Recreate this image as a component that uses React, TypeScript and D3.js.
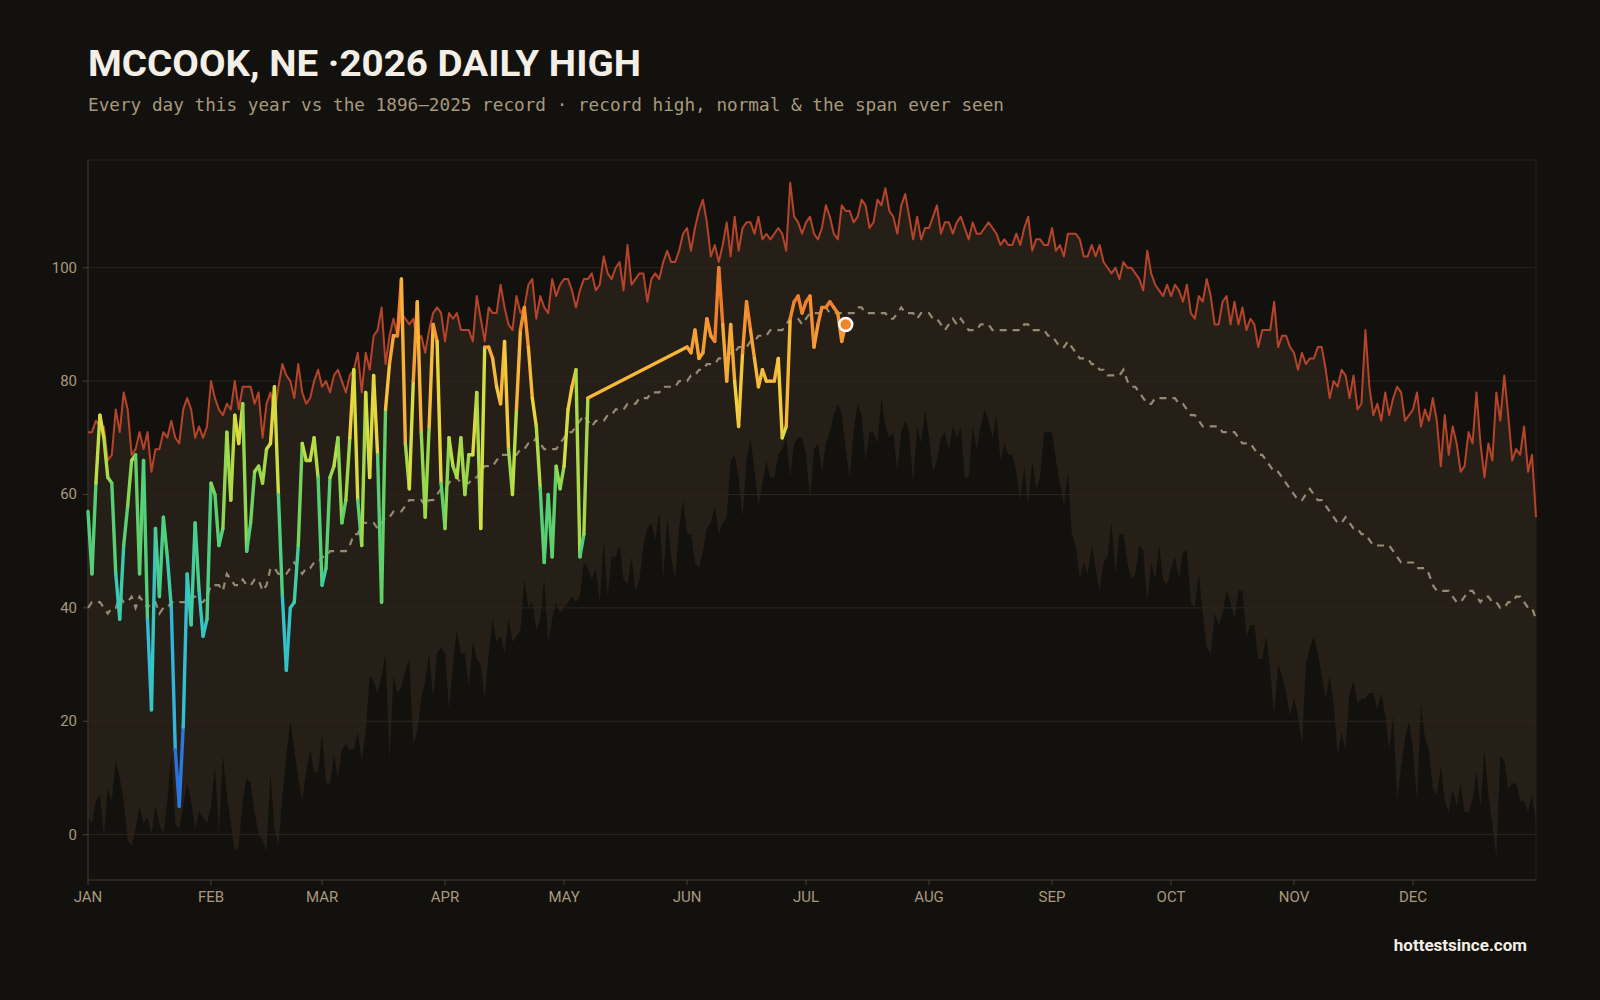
import React, { useEffect } from "react";
import * as d3 from "d3";

const BG = "#13110d";

const MONTHS = ["JAN", "FEB", "MAR", "APR", "MAY", "JUN", "JUL", "AUG", "SEP", "OCT", "NOV", "DEC"];
const MONTH_START = [0, 31, 59, 90, 120, 151, 181, 212, 243, 273, 304, 334];
const Y_TICKS = [0, 20, 40, 60, 80, 100];

// record high, day 0 = Jan 1
const RECORD_HIGH = [
  71, 71, 73, 72, 72, 66, 67, 75, 71, 78, 75, 67, 68, 71, 68, 71, 64, 68, 68, 71,
  70, 73, 70, 69, 75, 77, 75, 70, 72, 70, 72, 80, 77, 75, 74, 76, 75, 80, 75, 79,
  79, 79, 76, 78, 70, 76, 78, 74, 79, 83, 81, 80, 77, 83, 78, 76, 77, 80, 82, 79,
  80, 78, 81, 82, 80, 78, 81, 82, 85, 78, 85, 82, 88, 89,
  93, 83, 88, 91, 88, 92, 91, 90, 91, 87, 88, 85, 89, 92, 93, 92, 87, 92, 91, 92,
  89, 89, 89, 87, 95, 91, 87, 93, 92, 92, 97, 93, 90, 89, 95, 92, 93, 97, 98, 91,
  95, 93, 92, 98, 95, 97, 98, 98, 96, 93, 96, 98, 98, 99, 96, 97, 102, 99, 98, 100,
  101, 96, 104, 97, 98, 99, 99, 94, 98, 99, 98, 101, 103,
  101, 101, 103, 106, 107, 103, 107, 110, 112, 108, 102, 104, 101, 104, 108, 102, 109, 103, 107, 108,
  108, 106, 109, 105, 106, 105, 106, 107, 106, 103, 115, 109, 108, 106, 108, 109, 106, 105, 107, 111,
  109, 106, 105, 111, 110, 110, 108, 109, 112, 111, 107, 108, 112, 111, 114, 110, 109, 106, 111, 113,
  109, 105, 109, 105, 107, 107, 109, 111, 106, 108, 108, 106, 108,
  109, 107, 105, 108, 106, 106, 107, 108, 107, 106, 104, 105, 104, 104, 106, 104, 107, 109, 103, 105,
  105, 104, 104, 107, 103, 104, 102, 106, 106, 106, 105, 102, 102, 104, 102, 104, 101, 100, 99, 100,
  98, 101, 100, 100, 99, 98, 96, 103, 99, 97, 96, 95, 97, 95, 97, 96, 94, 97, 92, 91,
  95, 94, 98, 95, 90, 90, 94, 95, 90, 94, 90, 93, 89,
  91, 90, 86, 89, 89, 89, 94, 86, 88, 88, 86, 85, 82, 85, 83, 84, 84, 86, 86, 82,
  77, 80, 79, 82, 81, 77, 81, 75, 76, 89, 79, 74, 76, 73, 78, 74, 77, 79, 78, 73,
  74, 75, 78, 72, 75, 73, 77, 73, 65, 74, 67, 72, 69, 64, 65, 71, 69, 78, 69, 63,
  69, 66, 78, 73, 81, 74, 66, 68, 67, 72, 64, 67, 56,
];

// record low (bottom of the "span ever seen")
const RECORD_LOW = [
  3, 2, 6, 7, 0, 8, 6, 13, 10, 6, -1, -2, 1, 5, 2, 3, 0, 5, 2, 0,
  6, 14, 2, 1, 5, 9, 6, 1, 4, 3, 2, 5, 12, 0, 14, 7, 2, -3, -2, 6,
  10, 9, 4, 0, -1, -3, 11, 1, -2, 7, 14, 20, 15, 10, 6, 11, 15, 11, 11, 18,
  9, 9, 14, 10, 15, 16, 15, 15, 18, 13, 18, 28, 27, 25,
  28, 32, 13, 28, 25, 26, 29, 31, 16, 18, 24, 27, 32, 24, 32, 33, 32, 22, 30, 36,
  32, 32, 26, 34, 31, 30, 24, 32, 38, 34, 35, 32, 38, 34, 35, 36, 45, 40, 41, 36,
  38, 45, 34, 38, 41, 39, 40, 41, 42, 41, 42, 48, 47, 45, 47, 41, 52, 42, 49, 49,
  51, 45, 44, 49, 43, 45, 51, 54, 55, 52, 57, 45, 56,
  49, 45, 54, 59, 53, 53, 48, 47, 50, 54, 55, 58, 53, 55, 56, 66, 67, 63, 56, 66,
  70, 64, 58, 62, 66, 63, 63, 67, 68, 70, 63, 69, 70, 70, 67, 59, 68, 69, 64, 69,
  71, 74, 76, 74, 68, 63, 71, 76, 74, 66, 71, 71, 69, 77, 72, 70, 71, 64, 71, 73,
  71, 62, 72, 69, 75, 70, 64, 66, 70, 71, 68, 72, 70,
  72, 63, 63, 72, 68, 72, 75, 73, 70, 74, 66, 69, 67, 67, 64, 59, 65, 58, 66, 61,
  63, 71, 71, 71, 66, 62, 58, 64, 53, 51, 45, 48, 46, 51, 47, 43, 48, 49, 55, 46,
  53, 53, 48, 45, 46, 51, 50, 41, 48, 45, 51, 45, 44, 47, 49, 45, 50, 50, 41, 40,
  46, 39, 33, 32, 39, 37, 39, 43, 41, 38, 43, 43, 35,
  37, 37, 31, 31, 35, 29, 21, 30, 28, 25, 21, 24, 21, 16, 30, 33, 35, 32, 28, 24,
  28, 23, 14, 18, 15, 25, 27, 23, 24, 24, 25, 25, 22, 25, 21, 15, 21, 6, 12, 17,
  20, 15, 6, 23, 17, 15, 8, 7, 12, 6, 4, 8, 5, 9, 4, 4, 6, 11, 5, 15,
  7, 2, -4, 14, 13, 8, 9, 9, 6, 6, 4, 7, 2,
];

// normal daily high
const NORMAL = [
  40, 41, 41, 41, 40, 39, 40, 40, 42, 41, 41, 42, 40, 42, 41, 40, 41, 41, 39, 40,
  40, 41, 41, 41, 41, 41, 42, 42, 41, 41, 42, 44, 44, 44, 43, 46, 45, 44, 44, 45,
  44, 44, 45, 45, 43, 44, 47, 47, 46, 46, 46, 47, 48, 47, 46, 47, 47, 48, 48, 49,
  49, 50, 50, 50, 50, 50, 51, 53, 53, 55, 55, 55, 55, 54, 55,
  56, 56, 57, 57, 57, 58, 59, 59, 59, 59, 58, 59, 59, 60, 61, 61, 62, 63, 63, 62,
  62, 62, 63, 63, 64, 65, 65, 65, 66, 67, 67, 67, 67, 67, 68, 68, 69, 69, 70, 69,
  68, 68, 68, 68, 69, 70, 71, 71, 72, 73, 74, 73, 72, 73, 73, 73, 74, 74, 75, 75,
  75, 76, 76, 76, 77, 77, 77, 78, 78, 78, 79, 79,
  79, 79, 80, 80, 80, 81, 81, 82, 82, 83, 83, 83, 84, 84, 84, 85, 85, 86, 86, 86,
  87, 87, 88, 88, 88, 89, 89, 89, 89, 90, 91, 91, 91, 90, 91, 92, 92, 92, 92, 93,
  92, 92, 92, 92, 92, 92, 92, 93, 93, 92, 92, 92, 92, 92, 92, 91, 91, 92, 93, 92,
  92, 92, 91, 92, 92, 92, 91, 91, 90, 89, 90, 91, 90,
  91, 90, 89, 89, 89, 90, 90, 90, 89, 89, 89, 89, 89, 89, 89, 89, 90, 90, 89, 89,
  89, 89, 88, 88, 87, 86, 86, 87, 86, 85, 84, 84, 84, 83, 83, 82, 82, 81, 81, 81,
  81, 82, 80, 79, 79, 78, 77, 76, 76, 77, 77, 77, 77, 77, 77, 76, 76, 75, 74, 74,
  73, 72, 72, 72, 72, 72, 71, 71, 71, 71, 70, 69, 69,
  69, 68, 67, 67, 66, 65, 64, 64, 63, 62, 61, 60, 59, 59, 60, 61, 60, 59, 59, 58,
  57, 56, 55, 55, 56, 55, 54, 54, 53, 53, 52, 51, 51, 51, 51, 51, 50, 49, 48, 48,
  48, 48, 47, 47, 47, 46, 44, 43, 43, 43, 43, 42, 41, 41, 42, 43, 43, 42, 41, 42,
  42, 41, 41, 40, 40, 41, 41, 42, 42, 41, 40, 40, 38,
];

// 2026 daily highs so far (null = missing day)
const DAILY_2026 = [
  57, 46, 62, 74, 70, 63, 62, 46, 38, 51, 58, 66, 67, 46, 66, 38, 22, 54, 42, 56,
  49, 40, 15, 5, 19, 46, 37, 55, 43, 35, 38, 62, 60, 51, 54, 71, 59, 74, 69, 76,
  50, 55, 64, 65, 62, 68, 69, 79, 60, 42, 29, 40, 41, 51, 69, 66, 66, 70, 63, 44,
  47, 63, 65, 70, 55, 59, 70, 82, 59, 51, 78, 63, 81, 67, 41, 75, 83, 88, 88, 98,
  69, 61, 80, 94, 71, 56, 72, 90, 87, 62, 54, 70, 65, 63, 70, 60, 67, 67, 78, 54,
  86, 86, 84, 79, 76, 87, 68, 60, 75, 89, 93, 86, 77, 72, 61, 48, 60, 49, 65, 61,
  65, 75, 79, 82, 49, 53, 77,
  null, null, null, null, null, null, null, null, null, null, null, null,
  null, null, null, null, null, null, null, null, null, null, null, null,
  86, 85, 89, 84, 85, 91, 88, 87, 100,
  90, 80, 90, 80, 72, 85, 94, 89, 84, 79, 82, 80, 80, 80, 84, 70, 72, 91, 94, 95,
  92, 94, 95, 86, 90, 93, 93, 94, 93, 92, 87, 90,
];

const TEMP_STOPS = [5, 12, 20, 30, 42, 50, 58, 64, 70, 76, 82, 88, 94, 100];
const TEMP_COLORS = [
  "#2c63d6", "#2e78dd", "#2fa2e0", "#31bdd8", "#37cbb8", "#4ccf84", "#62d166",
  "#9bd94b", "#d2df42", "#f2d13d", "#f7b63a", "#f59c33", "#f0802d", "#e5602a",
];

export default function App() {
  useEffect(() => {
    document.body.style.margin = "0";
    document.body.style.background = BG;
  }, []);

  const W = 1600;
  const H = 1000;
  const left = 88, right = 1536, top = 160, bottom = 880;

  const x = d3.scaleLinear().domain([0, 365]).range([left, right]);
  const y = d3.scaleLinear().domain([-8, 119]).range([bottom, top]);
  const color = d3.scaleLinear<string>().domain(TEMP_STOPS).range(TEMP_COLORS).clamp(true);

  const days = d3.range(RECORD_HIGH.length);

  const band = d3.area<number>()
    .x((d) => x(d))
    .y0((d) => y(RECORD_LOW[d]))
    .y1((d) => y(RECORD_HIGH[d]));
  const highLine = d3.line<number>().x((d) => x(d)).y((d) => y(RECORD_HIGH[d]));
  const normalLine = d3.line<number>().x((d) => x(d)).y((d) => y(NORMAL[d]));

  const pts = DAILY_2026
    .map((v, i) => ({ day: i, v }))
    .filter((p) => p.v != null) as { day: number; v: number }[];
  // each segment coloured by the mean of its two days
  const segs = d3.pairs(pts).map(([a, b]) => ({ a, b, c: color((a.v + b.v) / 2) }));
  const last = pts[pts.length - 1];

  const muted = "#a8997e";

  return (
    <svg width={W} height={H} style={{ display: "block", position: "absolute", left: 0, top: 0, background: BG }}>
      <rect x={0} y={0} width={W} height={H} fill={BG} />

      <text x={88} y={76} fill="#f3efe6" fontSize={37} fontWeight={700}
        fontFamily="'Liberation Sans Narrow', Roboto, sans-serif"
        textLength={553} lengthAdjust="spacingAndGlyphs">
        MCCOOK, NE ·2026 DAILY HIGH
      </text>
      <text x={88} y={111} fill={muted} fontSize={17} fontFamily="'DejaVu Sans Mono', monospace"
        textLength={916} lengthAdjust="spacingAndGlyphs">
        Every day this year vs the 1896–2025 record · record high, normal &amp; the span ever seen
      </text>

      {/* span ever seen */}
      <path d={band(days) || ""} fill="#251f17" />

      {/* grid */}
      {Y_TICKS.map((t) => (
        <line key={t} x1={left} x2={right} y1={y(t)} y2={y(t)} stroke="#2e2520" strokeWidth={1} />
      ))}

      <rect x={left} y={top} width={right - left} height={bottom - top} fill="none" stroke="#29241e" />
      <line x1={left} x2={right} y1={bottom} y2={bottom} stroke="#3a3229" />
      <line x1={left} x2={left} y1={top} y2={bottom} stroke="#3a3229" />

      {/* normal */}
      <path d={normalLine(days) || ""} fill="none" stroke="#968a74" strokeWidth={2.2}
        strokeDasharray="7 6" />

      {/* record high */}
      <path d={highLine(days) || ""} fill="none" stroke="#b5442a" strokeWidth={2} strokeLinejoin="round" />

      {/* 2026 */}
      {segs.map((s, i) => (
        <line key={i} x1={x(s.a.day)} y1={y(s.a.v)} x2={x(s.b.day)} y2={y(s.b.v)}
          stroke={s.c} strokeWidth={3.4} strokeLinecap="round" />
      ))}
      <circle cx={x(last.day)} cy={y(last.v)} r={6.5} fill="#ef852d" stroke="#ffffff" strokeWidth={2.5} />

      {/* y axis */}
      {Y_TICKS.map((t) => (
        <g key={t}>
          <line x1={left - 5} x2={left} y1={y(t)} y2={y(t)} stroke="#4a4036" />
          <text x={left - 11} y={y(t) + 5} textAnchor="end" fill={muted} fontSize={15}
            fontFamily="Roboto, sans-serif">{t}</text>
        </g>
      ))}

      {/* x axis */}
      {MONTH_START.map((d, i) => (
        <g key={d}>
          <line x1={x(d)} x2={x(d)} y1={bottom} y2={bottom + 5} stroke="#4a4036" />
          <text x={x(d)} y={902} textAnchor="middle" fill={muted} fontSize={15}
            fontFamily="Roboto, sans-serif">{MONTHS[i]}</text>
        </g>
      ))}

      <text x={1527} y={951} textAnchor="end" fill="#f3efe6" fontSize={17} fontWeight={700}
        fontFamily="Roboto, sans-serif">hottestsince.com</text>
    </svg>
  );
}
